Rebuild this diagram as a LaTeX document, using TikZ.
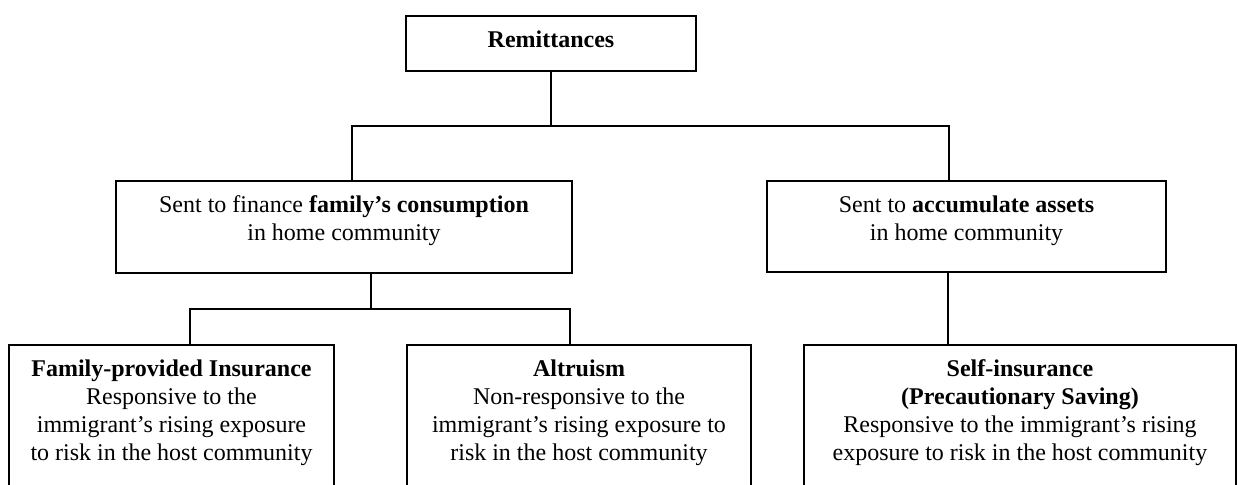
\documentclass[tikz,border=0pt]{standalone}
\usepackage{fontspec}
\setmainfont{Liberation Serif}
\tikzset{
  box/.style={draw, line width=1pt, inner sep=0pt},
  txt/.style={anchor=north, align=center, inner sep=0pt, font=\fontsize{12}{13.9}\selectfont},
  link/.style={line width=1pt},
}
\begin{document}
\begin{tikzpicture}[x=0.5pt, y=-0.5pt]
        \useasboundingbox (0,0) rectangle (1238,484);
        \clip (0,0) rectangle (1238,484);
        % boxes
        \node[box, minimum width=145pt, minimum height=27.5pt] (rem) at (551,43.5) {};
        \node[txt] (remtxt) at ([yshift=-7.8pt]rem.north) {\textbf{Remittances}};
        \node[box, minimum width=228pt, minimum height=46pt] (cons) at (344,227) {};
        \node[txt] (constxt) at ([yshift=-7.8pt]cons.north) {Sent to finance \textbf{family's consumption}\\in home community};
        \node[box, minimum width=199.5pt, minimum height=45.5pt] (assets) at (966.5,226.5) {};
        \node[txt] (assetstxt) at ([yshift=-7.8pt]assets.north) {Sent to \textbf{accumulate assets}\\in home community};
        \node[box, minimum width=162.5pt, minimum height=100pt] (fam) at (171.5,445) {};
        \node[txt] (famtxt) at ([yshift=-7.8pt]fam.north) {\textbf{Family-provided Insurance}\\Responsive to the\\immigrant's rising exposure\\to risk in the host community};
        \node[box, minimum width=172pt, minimum height=100pt] (alt) at (579,445) {};
        \node[txt] (alttxt) at ([yshift=-7.8pt]alt.north) {\textbf{Altruism}\\Non-responsive to the\\immigrant's rising exposure to\\risk in the host community};
        \node[box, minimum width=216pt, minimum height=100pt] (self) at (1020,445) {};
        \node[txt] (selftxt) at ([yshift=-7.8pt]self.north) {\textbf{Self-insurance}\\\textbf{(Precautionary Saving)}\\Responsive to the immigrant's rising\\exposure to risk in the host community};
        % connectors
        \coordinate (top) at (551,126);
        \coordinate (mid) at (371,309);
        \draw[link] (rem) -- (top);
        \draw[link] ([xshift=4pt]cons.north) |- (top) -| ([xshift=-8.75pt]assets.north);
        \draw[link] ([xshift=13.5pt]cons.south) -- (mid);
        \draw[link] ([xshift=9.25pt]fam.north) |- (mid) -| ([xshift=-4.5pt]alt.north);
        \draw[link] ([xshift=-9.25pt]assets.south) -- ([xshift=-36pt]self.north);
    \end{tikzpicture}
\end{document}
